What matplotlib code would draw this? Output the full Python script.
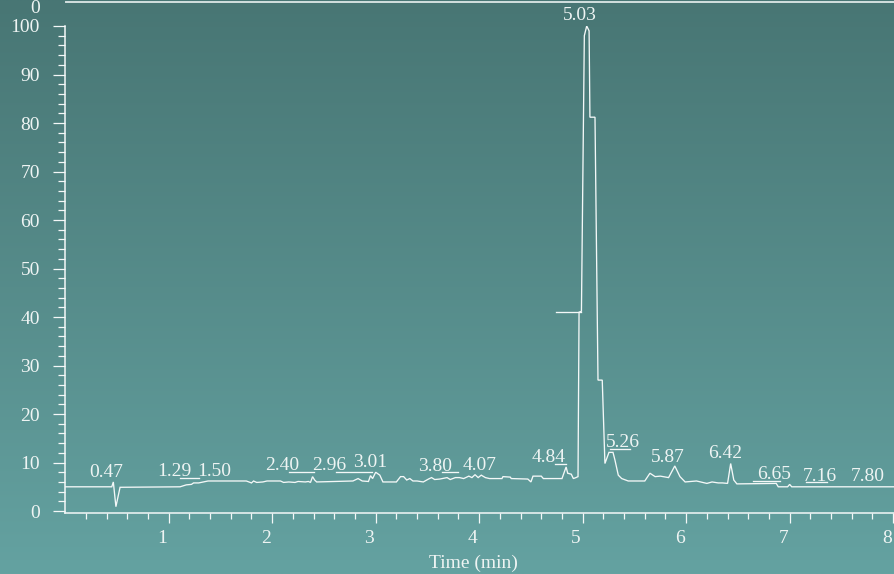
import numpy as np
import matplotlib
matplotlib.use("Agg")
import matplotlib.pyplot as plt
from matplotlib.lines import Line2D
from matplotlib.transforms import ScaledTranslation

# ---- chromatogram trace (retention time in min, relative intensity %) ----
time_min = [0.00, 0.45, 0.465, 0.49, 0.53, 1.11, 1.17, 1.22, 1.24, 1.29, 1.38,
            1.75, 1.80, 1.82, 1.85, 1.91, 1.95, 2.08, 2.11, 2.16, 2.22, 2.25,
            2.32, 2.35, 2.37, 2.39, 2.41, 2.43, 2.78, 2.83, 2.87, 2.93, 2.95,
            2.97, 3.00, 3.04, 3.07, 3.20, 3.24, 3.27, 3.30, 3.33, 3.36, 3.40,
            3.46, 3.51, 3.54, 3.57, 3.62, 3.69, 3.72, 3.77, 3.81, 3.85, 3.90,
            3.93, 3.96, 3.99, 4.02, 4.06, 4.10, 4.22, 4.23, 4.30, 4.31, 4.47,
            4.50, 4.52, 4.60, 4.62, 4.80, 4.84, 4.855, 4.89, 4.91, 4.935,
            4.955, 4.965, 4.988, 5.016, 5.039, 5.062, 5.070, 5.119, 5.148,
            5.189, 5.215, 5.254, 5.293, 5.312, 5.344, 5.377, 5.44, 5.60, 5.65,
            5.70, 5.75, 5.83, 5.89, 5.94, 5.99, 6.10, 6.20, 6.25, 6.31, 6.35,
            6.40, 6.43, 6.46, 6.49, 6.87, 6.89, 6.98, 7.00, 7.02, 8.01]
intensity = [5.0, 5.0, 6.0, 0.9, 4.9, 5.0, 5.4, 5.5, 5.8, 5.8, 6.2,
             6.2, 5.8, 6.2, 5.9, 6.0, 6.2, 6.2, 5.9, 6.0, 5.9, 6.1,
             6.0, 6.1, 5.9, 7.1, 6.4, 6.0, 6.2, 6.7, 6.2, 6.1, 7.3,
             6.7, 8.0, 7.4, 6.0, 6.0, 7.1, 7.1, 6.4, 6.7, 6.2, 6.2,
             6.0, 6.6, 6.9, 6.5, 6.6, 6.9, 6.5, 6.9, 6.9, 6.7, 7.2,
             6.9, 7.5, 6.9, 7.4, 6.9, 6.7, 6.7, 7.1, 7.0, 6.7, 6.6,
             6.0, 7.2, 7.2, 6.7, 6.7, 9.1, 7.8, 7.6, 6.7, 6.9,
             7.1, 41.0, 41.2, 98.0, 100.0, 99.0, 81.2, 81.2, 27.0,
             27.0, 9.8, 12.1, 12.1, 10.5, 7.4, 6.7, 6.2, 6.2, 7.8,
             7.1, 7.2, 6.9, 9.3, 7.1, 6.0, 6.2, 5.7, 6.0, 5.8, 5.8,
             5.7, 9.8, 6.4, 5.6, 5.7, 5.0, 5.0, 5.5, 5.0, 5.0]

# baseline marker drawn across the main peak front
marker_time = [4.742, 4.983]
marker_level = 41.0

# ---- peak annotations ----
peak_labels = ["0.47", "1.29", "1.50", "2.40", "2.96", "3.01", "3.80", "4.07",
               "4.84", "5.03", "5.26", "5.87", "6.42", "6.65", "7.16", "7.80"]
label_x = [0.46, 1.114, 1.507, 2.163, 2.612, 3.008, 3.636, 4.068,
           4.731, 5.037, 5.455, 5.887, 6.435, 6.911, 7.356, 7.815]
label_y = [8.3, 8.5, 8.6, 9.8, 9.8, 10.4, 9.7, 9.8,
           11.5, 102.5, 14.5, 11.5, 12.2, 7.9, 7.6, 7.6]

x_ticks = [1, 2, 3, 4, 5, 6, 7, 8]
y_ticks = [0, 10, 20, 30, 40, 50, 60, 70, 80, 90, 100]

FG = "#eef4f3"
LINE = "#f4f8f8"
plt.rcParams["font.family"] = ["Liberation Serif", "DejaVu Serif"]
plt.rcParams["font.size"] = 14

W, H = 895, 574
fig = plt.figure(figsize=(W / 100, H / 100), dpi=100)

# vertical teal gradient behind everything
top_rgb = np.array([72, 118, 116]) / 255
bot_rgb = np.array([100, 162, 161]) / 255
f = np.linspace(0, 1, 256)[:, None, None]
grad = top_rgb * (1 - f) + bot_rgb * f
bg = fig.add_axes([0, 0, 1, 1], zorder=-10)
bg.imshow(np.repeat(grad, 2, axis=1), aspect="auto", extent=[0, 1, 0, 1],
          interpolation="bilinear")
bg.set_axis_off()

x0_px, x1_px = 65.2, 894.2
y_top_px, y_bot_px = 26.0, 513.0
ax = fig.add_axes([x0_px / W, (H - y_bot_px) / H,
                   (x1_px - x0_px) / W, (y_bot_px - y_top_px) / H])
ax.set_facecolor("none")
ax.set_xlim(0, 8.01)
ax.set_ylim(-0.4, 100)

ax.plot(time_min, intensity, color=LINE, lw=0.95, solid_joinstyle="miter")
ax.plot(marker_time, [marker_level, marker_level], color=LINE, lw=0.95)

# text sits a few pixels left of its anchor
text_shift = ScaledTranslation(-6.5 / 100, 0, fig.dpi_scale_trans)

for txt, lx, ly, in zip(peak_labels, label_x, label_y):
    ax.text(lx, ly, txt, color=FG, ha="center", va="center_baseline",
            transform=ax.transData + text_shift, clip_on=False)
    rt = float(txt)
    if abs(rt - lx) > 0.05:
        ax.plot([min(rt, lx), max(rt, lx)], [ly - 1.7, ly - 1.7],
                color=LINE, lw=0.95)

for side in ("top", "right"):
    ax.spines[side].set_visible(False)
for side in ("left", "bottom"):
    ax.spines[side].set_color(LINE)
    ax.spines[side].set_linewidth(1.1)

ax.set_xticks(x_ticks)
ax.set_xticks(np.arange(0.2, 8.01, 0.2), minor=True)
ax.set_yticks(y_ticks)
ax.set_yticks(np.arange(0, 101, 2), minor=True)
ax.tick_params(axis="both", which="both", colors=LINE, labelcolor=FG,
               width=0.9, direction="out")
ax.tick_params(axis="x", which="major", length=7.2, pad=4.8)
ax.tick_params(axis="x", which="minor", length=4.3)
ax.tick_params(axis="y", which="major", length=8.6, pad=9.5)
ax.tick_params(axis="y", which="minor", length=5.0)
for lab in ax.get_xticklabels():
    lab.set_transform(lab.get_transform() + text_shift)

ax.annotate("Time (min)", xy=(0.5, 0), xycoords="axes fraction",
            xytext=(-6.5 * 0.72, -(563.3 - y_bot_px) * 0.72),
            textcoords="offset points", ha="center", va="center", color=FG)

# upper frame edge and the zero label that sits on it
fig.add_artist(Line2D([66 / W, 1.0], [(H - 1.5) / H] * 2,
                      color="#d3e0df", lw=1.4))
fig.text(40 / W, (H - 13) / H, "0", color=FG, ha="right", va="baseline")

fig.savefig("out.png", dpi=100)
